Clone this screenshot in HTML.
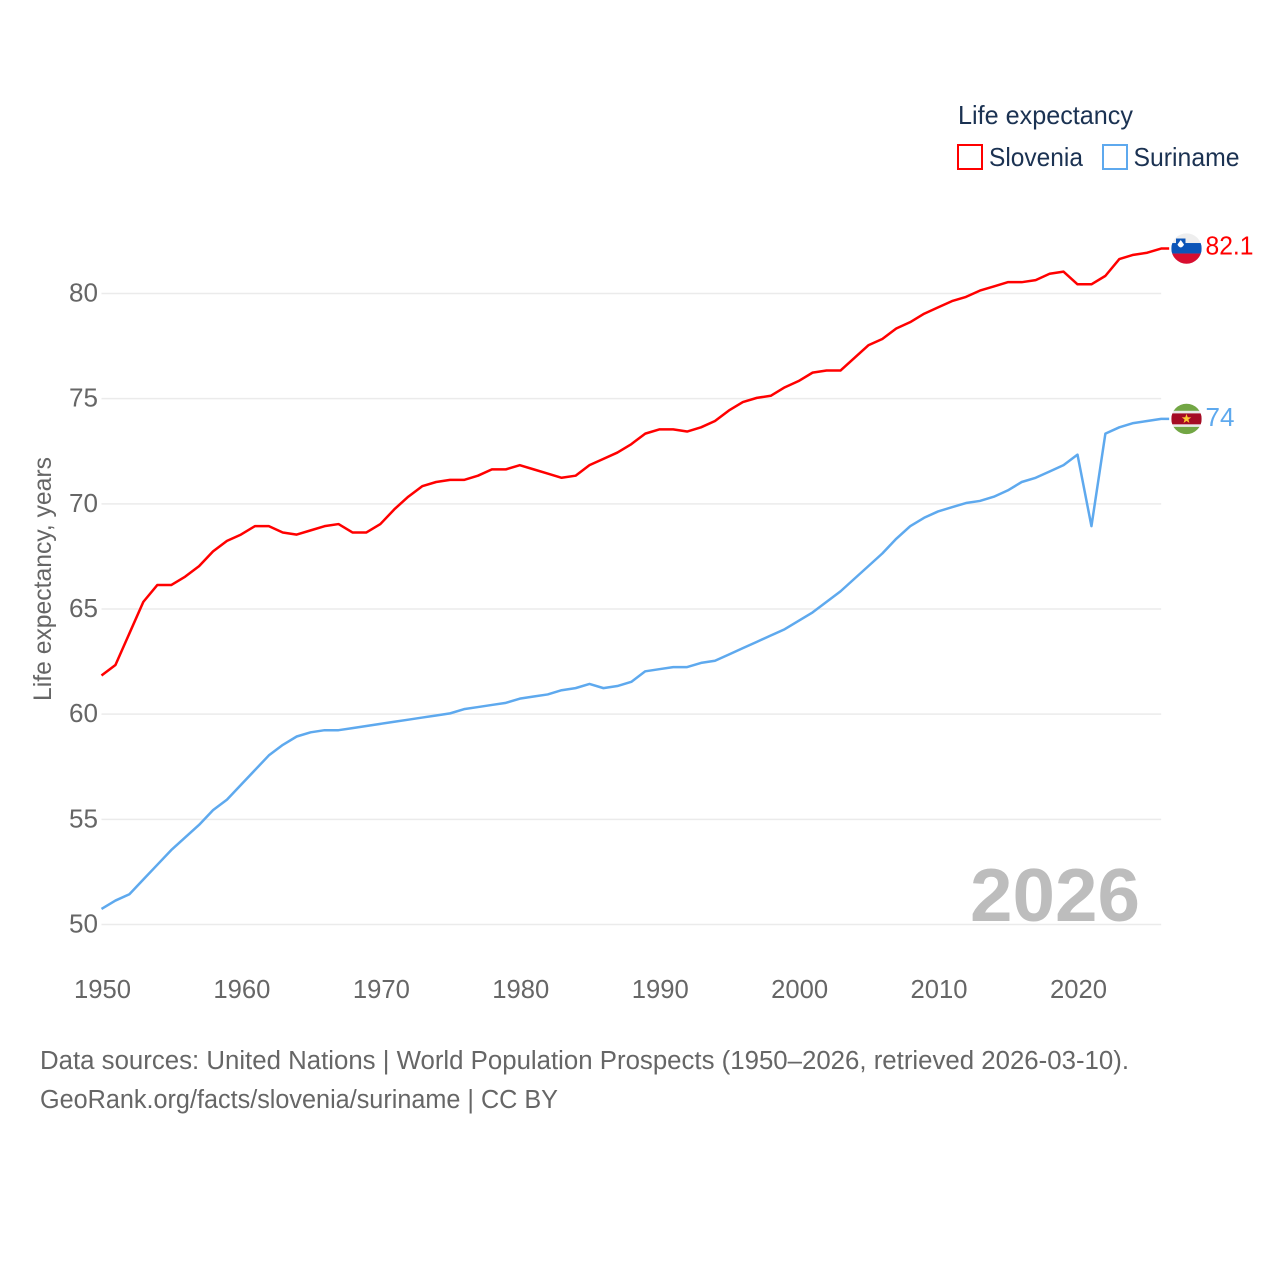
<!DOCTYPE html>
<html lang="en">
<head>
<meta charset="utf-8">
<title>Life expectancy: Slovenia and Suriname</title>
<style>
html,body{margin:0;padding:0;background:#fff;width:1280px;height:1280px;overflow:hidden}
svg{display:block}
text{font-family:"Liberation Sans",sans-serif}
</style>
</head>
<body>
<svg id="chart" width="1280" height="1280" viewBox="0 0 1280 1280" xmlns="http://www.w3.org/2000/svg">
  <rect width="1280" height="1280" fill="#fff"/>
  <g id="grid"></g>
  <g id="yticks"></g>
  <g id="xticks"></g>
  <text transform="translate(51,701) rotate(-90)" font-size="25" fill="#666" textLength="244" lengthAdjust="spacingAndGlyphs">Life expectancy, years</text>
  <text x="970" y="921" font-size="75" font-weight="700" fill="#bdbdbd" textLength="170" lengthAdjust="spacingAndGlyphs">2026</text>
  <g id="series"></g>
  <g id="flag-si"></g>
  <g id="flag-sr"></g>
  <g id="labels"></g>

  <text x="958" y="124" font-size="26" fill="#1b3252" textLength="175" lengthAdjust="spacingAndGlyphs">Life expectancy</text>
  <g>
    <rect x="958" y="145" width="24" height="24" fill="none" stroke="#ff0000" stroke-width="2"/>
    <text x="989" y="166" font-size="26" fill="#1b3252" textLength="94" lengthAdjust="spacingAndGlyphs">Slovenia</text>
  </g>
  <g>
    <rect x="1103" y="145" width="24" height="24" fill="none" stroke="#5ea9ee" stroke-width="2"/>
    <text x="1133.5" y="166" font-size="26" fill="#1b3252" textLength="106" lengthAdjust="spacingAndGlyphs">Suriname</text>
  </g>

  <text x="40" y="1069" font-size="25.5" fill="#666" textLength="1089" lengthAdjust="spacingAndGlyphs">Data sources: United Nations | World Population Prospects (1950–2026, retrieved 2026-03-10).</text>
  <text x="40" y="1108" font-size="25.5" fill="#666" textLength="518" lengthAdjust="spacingAndGlyphs">GeoRank.org/facts/slovenia/suriname | CC BY</text>
</svg>
<script>
const startYear = 1950;
const xTickLabels = [1950, 1960, 1970, 1980, 1990, 2000, 2010, 2020];
const yTickLabels = [50, 55, 60, 65, 70, 75, 80];
const sloveniaValues = [
  61.8, 62.3, 63.8, 65.3, 66.1, 66.1, 66.5, 67.0, 67.7, 68.2,
  68.5, 68.9, 68.9, 68.6, 68.5, 68.7, 68.9, 69.0, 68.6, 68.6,
  69.0, 69.7, 70.3, 70.8, 71.0, 71.1, 71.1, 71.3, 71.6, 71.6,
  71.8, 71.6, 71.4, 71.2, 71.3, 71.8, 72.1, 72.4, 72.8, 73.3,
  73.5, 73.5, 73.4, 73.6, 73.9, 74.4, 74.8, 75.0, 75.1, 75.5,
  75.8, 76.2, 76.3, 76.3, 76.9, 77.5, 77.8, 78.3, 78.6, 79.0,
  79.3, 79.6, 79.8, 80.1, 80.3, 80.5, 80.5, 80.6, 80.9, 81.0,
  80.4, 80.4, 80.8, 81.6, 81.8, 81.9, 82.1
];
const surinameValues = [
  50.7, 51.1, 51.4, 52.1, 52.8, 53.5, 54.1, 54.7, 55.4, 55.9,
  56.6, 57.3, 58.0, 58.5, 58.9, 59.1, 59.2, 59.2, 59.3, 59.4,
  59.5, 59.6, 59.7, 59.8, 59.9, 60.0, 60.2, 60.3, 60.4, 60.5,
  60.7, 60.8, 60.9, 61.1, 61.2, 61.4, 61.2, 61.3, 61.5, 62.0,
  62.1, 62.2, 62.2, 62.4, 62.5, 62.8, 63.1, 63.4, 63.7, 64.0,
  64.4, 64.8, 65.3, 65.8, 66.4, 67.0, 67.6, 68.3, 68.9, 69.3,
  69.6, 69.8, 70.0, 70.1, 70.3, 70.6, 71.0, 71.2, 71.5, 71.8,
  72.3, 68.9, 73.3, 73.6, 73.8, 73.9, 74.0
];

const NS = 'http://www.w3.org/2000/svg';
const RED = '#ff0000';
const BLUE = '#5ea9ee';
const xScale = function (year) { return 101.5 + (year - 1950) * (976 / 70); };
const yScale = function (v) { return 924.5 - (v - 50) * (631 / 30); };
const lineY = function (v) { return yScale(v) - 0.8; };
function make(tag, parent, attrs, text) {
  const el = document.createElementNS(NS, tag);
  Object.keys(attrs).forEach(function (k) { el.setAttribute(k, attrs[k]); });
  if (text !== undefined) el.textContent = text;
  parent.appendChild(el);
  return el;
}
const gridG = document.getElementById('grid');
const yG = document.getElementById('yticks');
const xG = document.getElementById('xticks');
const seriesG = document.getElementById('series');
const labelsG = document.getElementById('labels');
const xEnd = xScale(startYear + sloveniaValues.length - 1);

yTickLabels.forEach(function (v) {
  const line = make('line', gridG, {x1: xScale(startYear), x2: xEnd, y1: yScale(v), y2: yScale(v), stroke: '#ebebeb', 'stroke-width': 1.5});
  
  
  const t = make('text', yG, {x: 98, y: yScale(v) + 8, 'text-anchor': 'end', 'font-size': 25.5, fill: '#666', textLength: 29, lengthAdjust: 'spacingAndGlyphs'}, String(v));
  
  
});
xTickLabels.forEach(function (y) {
  const t = make('text', xG, {x: xScale(y) + 1, y: 998, 'text-anchor': 'middle', 'font-size': 25.5, fill: '#666', textLength: 57, lengthAdjust: 'spacingAndGlyphs'}, String(y));
  
  
});

function drawLine(values, color, name) {
  const pts = values.map(function (v, i) { return xScale(startYear + i).toFixed(2) + ',' + lineY(v).toFixed(2); });
  const last = lineY(values[values.length - 1]).toFixed(2);
  pts.push((xEnd + 8).toFixed(2) + ',' + last);
  const p = make('polyline', seriesG, {points: pts.join(' '), fill: 'none', stroke: color, 'stroke-width': 2.5, 'stroke-linejoin': 'round'});
  
  
}
drawLine(sloveniaValues, RED, 'slovenia-line');
drawLine(surinameValues, BLUE, 'suriname-line');

const cx = 1186.5;
const r = 15.2;
const defs = make('defs', document.getElementById('chart'), {});
function flag(groupId, clipId, cy, stripes) {
  const clip = make('clipPath', defs, {id: clipId});
  make('circle', clip, {cx: cx, cy: cy, r: r});
  const g = document.getElementById(groupId);
  const inner = make('g', g, {'clip-path': 'url(#' + clipId + ')'});
  stripes.forEach(function (s) {
    make('rect', inner, {x: cx - r, y: cy + s[0], width: r * 2, height: s[1] - s[0], fill: s[2]});
  });
  return inner;
}
const siLast = sloveniaValues[sloveniaValues.length - 1];
const srLast = surinameValues[surinameValues.length - 1];
const siY = lineY(siLast);
const srY = lineY(srLast);

const si = flag('flag-si', 'clip-si', siY, [[-16, -5.5, '#eeeeee'], [-5.5, 5, '#0c55b8'], [5, 16, '#d80e30']]);
make('path', si, {d: 'M' + (cx - 10.5) + ' ' + (siY - 10) + 'h9.5v7q-1 4 -4.75 5q-3.75 -1 -4.75 -5z', fill: '#0c55b8'});
make('path', si, {d: 'M' + (cx - 9) + ' ' + (siY - 4) + 'l3.25 -4.5l3.25 4.5q-1 2.5 -3.25 3q-2.25 -0.5 -3.25 -3z', fill: '#fff'});

const sr = flag('flag-sr', 'clip-sr', srY, [[-16, -8, '#72a644'], [-8, -5.5, '#e8e8e8'], [-5.5, 5.5, '#a50b24'], [5.5, 8, '#e8e8e8'], [8, 16, '#72a644']]);
const star = [];
for (let i = 0; i < 10; i++) {
  const rad = i % 2 === 0 ? 5 : 2;
  const a = -Math.PI / 2 + i * Math.PI / 5;
  star.push((cx + rad * Math.cos(a)).toFixed(2) + ',' + (srY + rad * Math.sin(a)).toFixed(2));
}
make('polygon', sr, {points: star.join(' '), fill: '#fcc934'});

const siLabel = make('text', labelsG, {x: 1205.5, y: yScale(siLast) + 5, 'font-size': 25.5, fill: RED, textLength: 48, lengthAdjust: 'spacingAndGlyphs'}, String(siLast));


const srLabel = make('text', labelsG, {x: 1205.5, y: yScale(srLast) + 6.5, 'font-size': 25.5, fill: BLUE, textLength: 29, lengthAdjust: 'spacingAndGlyphs'}, String(srLast));


</script>
</body>
</html>
